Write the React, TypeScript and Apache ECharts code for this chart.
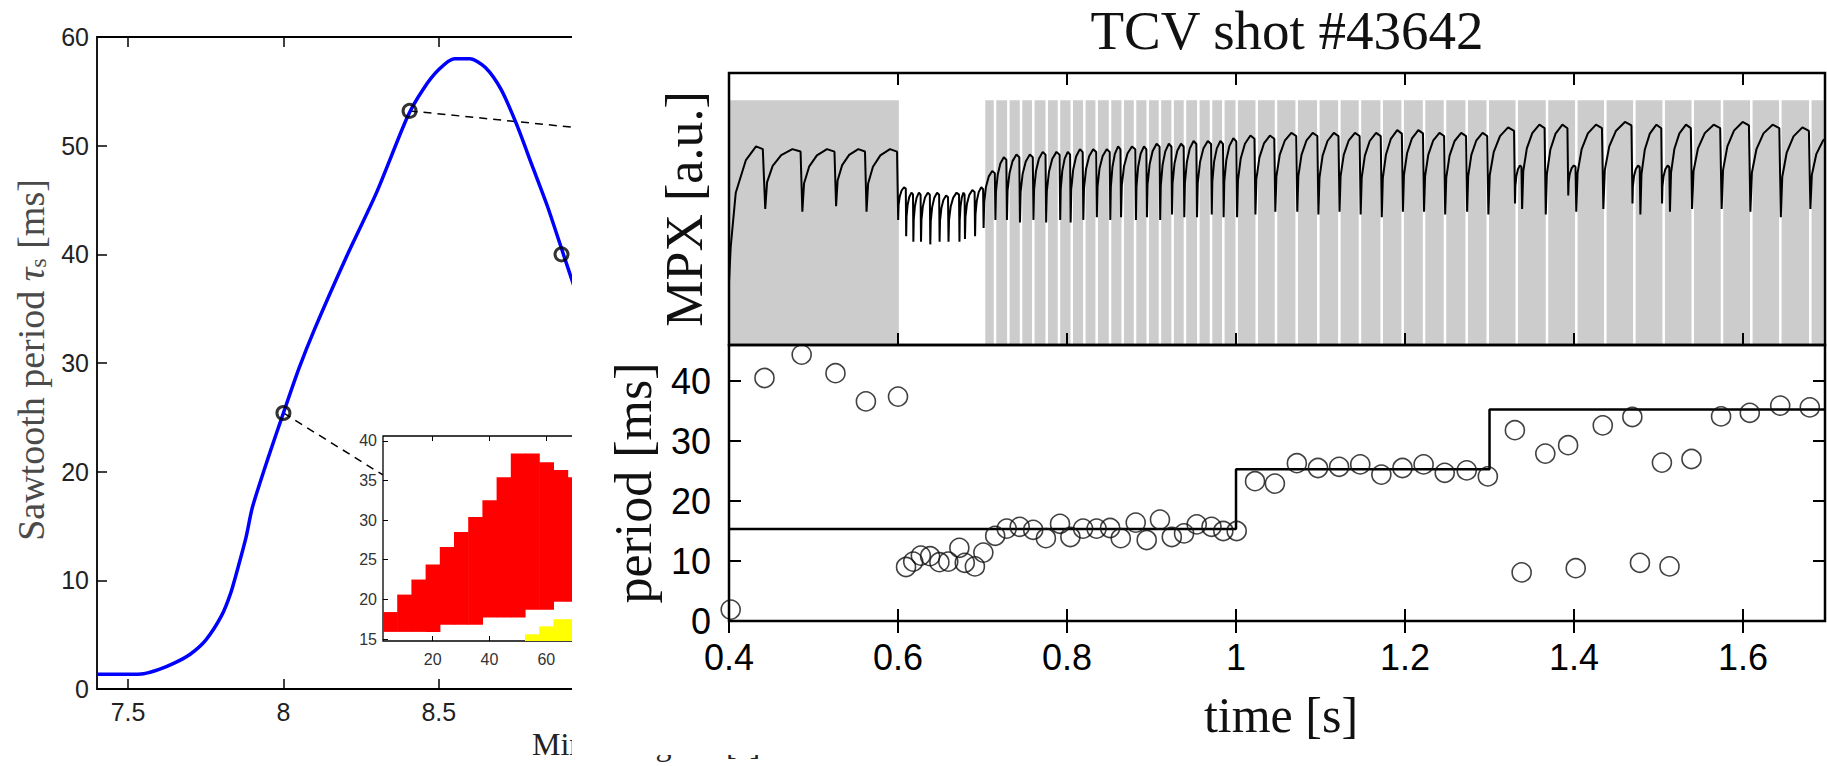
import React, { useEffect, useRef } from "react";
import * as echarts from "echarts";

// ================= Left figure: sawtooth period vs mirror angle =================
const mirrorAngle = [7.40, 7.45, 7.50, 7.55, 7.60, 7.65, 7.70, 7.75, 7.80, 7.83, 7.855, 7.88, 7.90, 7.95, 8.00, 8.05, 8.10, 8.20, 8.30, 8.40, 8.45, 8.50, 8.55, 8.60, 8.65, 8.70, 8.75, 8.80, 8.85, 8.90, 8.95, 9.00];
const sawtoothPeriod = [1.35, 1.35, 1.35, 1.4, 1.8, 2.4, 3.2, 4.5, 6.7, 8.8, 11.3, 14.0, 16.7, 21.2, 25.4, 29.5, 33.1, 39.6, 45.7, 52.7, 55.2, 57.0, 58.0, 58.0, 57.2, 55.2, 52.0, 48.2, 44.4, 40.1, 35.8, 31.5];
const markedAngles = [8.0, 8.406, 8.895];
const markedPeriods = [25.4, 53.2, 40.0];
const leaderLower = [[8.0, 25.4], [8.32, 19.7]];
const leaderUpper = [[8.406, 53.2], [9.0, 51.5]];
const leftXTicks = [7.5, 8, 8.5, 9];
const leftYTicks = [0, 10, 20, 30, 40, 50, 60];

// inset map (columns 5 units wide)
const insetColCenters = [5, 10, 15, 20, 25, 30, 35, 40, 45, 50, 55, 60, 65, 70];
const insetRedLow = [15.9, 15.9, 15.9, 15.9, 16.8, 16.8, 16.8, 17.7, 17.7, 17.7, 18.7, 18.7, 19.7, 19.7];
const insetRedHigh = [18.4, 20.6, 22.5, 24.4, 26.6, 28.5, 30.4, 32.5, 35.4, 38.4, 38.4, 37.3, 36.3, 35.4];
const insetYellowCols = [55, 60, 65, 70];
const insetYellowHigh = [15.6, 16.6, 17.5, 17.5];
const insetXTicks = [20, 40, 60, 80];
const insetYTicks = [15, 20, 25, 30, 35, 40];
const insetCellWidth = 5;

// ================= Right figure: TCV shot #43642 =================
const periodTimes = [0.402, 0.442, 0.486, 0.526, 0.562, 0.600, 0.6095, 0.618, 0.627, 0.638, 0.649, 0.6595, 0.6726, 0.679, 0.691, 0.701, 0.715, 0.7286, 0.744, 0.760, 0.775, 0.7917, 0.804, 0.819, 0.835, 0.851, 0.8636, 0.8813, 0.8943, 0.910, 0.924, 0.9385, 0.9535, 0.971, 0.985, 1.0008, 1.0225, 1.046, 1.072, 1.097, 1.122, 1.147, 1.172, 1.197, 1.222, 1.247, 1.273, 1.298, 1.330, 1.338, 1.366, 1.393, 1.402, 1.434, 1.469, 1.478, 1.504, 1.513, 1.539, 1.574, 1.608, 1.644, 1.679];
const periodValues = [1.9, 40.5, 44.4, 41.3, 36.6, 37.4, 9.0, 9.9, 10.9, 10.8, 9.8, 9.9, 12.2, 9.7, 9.1, 11.4, 14.2, 15.4, 15.7, 15.2, 13.8, 16.2, 14.0, 15.4, 15.4, 15.5, 13.8, 16.4, 13.5, 16.9, 14.0, 14.6, 16.1, 15.7, 15.0, 15.0, 23.3, 22.9, 26.3, 25.5, 25.7, 26.1, 24.4, 25.5, 26.1, 24.7, 25.1, 24.1, 31.8, 8.1, 27.9, 29.3, 8.8, 32.6, 34.0, 9.7, 26.4, 9.1, 27.0, 34.1, 34.7, 35.9, 35.6];
const stepTimes = [0.4, 1.0, 1.3, 1.697];
const stepLevels = [15.35, 25.3, 35.25, 35.25];

// MPX signal: start transient, then one tooth per crash (crashes = periodTimes[1..])
const mpxStart = [[0.4, 0.23], [0.402, 0.36], [0.408, 0.56], [0.42, 0.68], [0.432, 0.73], [0.44, 0.72]];
const mpxTop = [0.72, 0.72, 0.72, 0.72, 0.58, 0.56, 0.56, 0.56, 0.56, 0.55, 0.56, 0.56, 0.57, 0.58, 0.64, 0.69, 0.70, 0.70, 0.71, 0.71, 0.71, 0.72, 0.72, 0.72, 0.73, 0.73, 0.73, 0.74, 0.74, 0.74, 0.75, 0.75, 0.75, 0.76, 0.77, 0.77, 0.78, 0.78, 0.78, 0.78, 0.78, 0.79, 0.79, 0.78, 0.78, 0.78, 0.80, 0.66, 0.81, 0.81, 0.66, 0.81, 0.82, 0.66, 0.81, 0.66, 0.81, 0.81, 0.82, 0.81, 0.80, 0.78];
const mpxLow = [0.50, 0.49, 0.51, 0.49, 0.46, 0.40, 0.38, 0.38, 0.37, 0.38, 0.38, 0.38, 0.39, 0.40, 0.43, 0.46, 0.46, 0.45, 0.46, 0.45, 0.46, 0.45, 0.46, 0.47, 0.46, 0.47, 0.46, 0.47, 0.46, 0.48, 0.47, 0.47, 0.48, 0.47, 0.47, 0.48, 0.49, 0.49, 0.48, 0.49, 0.48, 0.47, 0.49, 0.49, 0.48, 0.49, 0.48, 0.52, 0.50, 0.48, 0.55, 0.49, 0.50, 0.52, 0.48, 0.52, 0.49, 0.50, 0.50, 0.49, 0.47, 0.50];
// tooth shape: [fraction of cycle, fraction between low and top]
const toothShape = [[0.02, 0], [0.07, 0.45], [0.22, 0.72], [0.45, 0.9], [0.75, 1.0], [0.97, 0.96]];
const lastCyclePeriod = 0.035;

// grey trace: solid block, then bars separated by thin white gaps
const greyBlock = [0.4, 0.601];
const greyGapTimes = [0.7018, 0.7148, 0.7306, 0.7456, 0.7601, 0.776, 0.7905, 0.8056, 0.8205, 0.8351, 0.8509, 0.8659, 0.8805, 0.8955, 0.91, 0.925, 0.9396, 0.9554, 0.9704, 0.985, 1.0008, 1.0245, 1.0473, 1.0718, 1.0974, 1.1223, 1.1467, 1.1724, 1.1972, 1.2225, 1.2473, 1.273, 1.2979, 1.3322, 1.368, 1.4027, 1.437, 1.4714, 1.5061, 1.5405, 1.5751, 1.6098, 1.6441, 1.6796];
const greyTop = 0.9;

const timeTicks = [0.4, 0.6, 0.8, 1.0, 1.2, 1.4, 1.6];
const periodTicks = [0, 10, 20, 30, 40];
const X_MIN = 0.4;
const X_MAX = 1.697;

const SANS = '"Liberation Sans", Arial, Helvetica, sans-serif';
const SERIF = '"Liberation Serif", "Times New Roman", serif';

function buildMpx(): number[][] {
  const pts: number[][] = mpxStart.map((p) => [p[0], p[1]]);
  const crashes = periodTimes.slice(1);
  for (let i = 0; i < crashes.length; i++) {
    const t0 = crashes[i];
    const t1 = i + 1 < crashes.length ? crashes[i + 1] : t0 + lastCyclePeriod;
    const P = t1 - t0;
    const hi = mpxTop[i];
    const lo = mpxLow[i];
    for (const [f, l] of toothShape) pts.push([t0 + f * P, lo + l * (hi - lo)]);
  }
  return pts;
}

function buildGrey(): number[][] {
  const segs: number[][] = [[greyBlock[0], greyBlock[1], 0]];
  for (let i = 0; i < greyGapTimes.length; i++) {
    const s = greyGapTimes[i];
    const e = i + 1 < greyGapTimes.length ? greyGapTimes[i + 1] : X_MAX;
    segs.push([s, e, 1]);
  }
  return segs;
}

function buildInset(): number[][] {
  const cells: number[][] = [];
  insetColCenters.forEach((c, i) => {
    cells.push([c - insetCellWidth / 2, c + insetCellWidth / 2, insetRedLow[i], insetRedHigh[i], 0]);
  });
  insetYellowCols.forEach((c, i) => {
    cells.push([c - insetCellWidth / 2, c + insetCellWidth / 2, 14.75, insetYellowHigh[i], 1]);
  });
  return cells;
}

function leftOption(): any {
  const tickStyle = { color: "#000", width: 1.5 };
  return {
    animation: false,
    backgroundColor: "#fff",
    grid: [
      { left: 97, top: 37, width: 621.4, height: 652, show: true, borderColor: "#000", borderWidth: 1.8, backgroundColor: "transparent" },
      { left: 383, top: 436, width: 276.9, height: 205, show: true, borderColor: "#000", borderWidth: 1.3, backgroundColor: "#fff", z: 3 },
    ],
    xAxis: [
      {
        type: "value", gridIndex: 0, position: "bottom", min: 7.4, max: 9.4,
        axisLine: { show: false }, splitLine: { show: false },
        axisTick: { inside: true, length: 10, lineStyle: tickStyle, customValues: leftXTicks },
        axisLabel: { customValues: leftXTicks, fontSize: 25, fontFamily: SANS, color: "#222", margin: 10 },
      },
      {
        type: "value", gridIndex: 0, position: "top", min: 7.4, max: 9.4,
        axisLine: { show: false }, splitLine: { show: false },
        axisTick: { inside: true, length: 10, lineStyle: tickStyle, customValues: leftXTicks },
        axisLabel: { show: false },
      },
      {
        type: "value", gridIndex: 1, position: "bottom", min: 2.5, max: 100,
        axisLine: { show: false }, splitLine: { show: false },
        axisTick: { inside: true, length: 5, lineStyle: { color: "#000", width: 1 }, customValues: insetXTicks },
        axisLabel: { customValues: insetXTicks, fontSize: 16, fontFamily: SANS, color: "#333", margin: 10 },
        z: 4,
      },
      {
        type: "value", gridIndex: 1, position: "top", min: 2.5, max: 100,
        axisLine: { show: false }, splitLine: { show: false },
        axisTick: { inside: true, length: 5, lineStyle: { color: "#000", width: 1 }, customValues: insetXTicks },
        axisLabel: { show: false },
        z: 4,
      },
    ],
    yAxis: [
      {
        type: "value", gridIndex: 0, position: "left", min: 0, max: 60,
        axisLine: { show: false }, splitLine: { show: false },
        axisTick: { inside: true, length: 10, lineStyle: tickStyle, customValues: leftYTicks },
        axisLabel: { customValues: leftYTicks, fontSize: 25, fontFamily: SANS, color: "#222", margin: 8 },
      },
      {
        type: "value", gridIndex: 1, position: "left", min: 14.75, max: 40.6,
        axisLine: { show: false }, splitLine: { show: false },
        axisTick: { inside: true, length: 5, lineStyle: { color: "#000", width: 1 }, customValues: insetYTicks },
        axisLabel: { customValues: insetYTicks, fontSize: 16, fontFamily: SANS, color: "#333", margin: 6 },
        z: 4,
      },
    ],
    series: [
      {
        type: "line", xAxisIndex: 0, yAxisIndex: 0, symbol: "none", smooth: 0.25,
        data: mirrorAngle.map((x, i) => [x, sawtoothPeriod[i]]),
        lineStyle: { color: "#0000ff", width: 3.5 }, z: 3,
      },
      {
        type: "line", xAxisIndex: 0, yAxisIndex: 0, symbol: "none", data: leaderLower,
        lineStyle: { color: "#000", width: 1.5, type: [8, 6] }, z: 2,
      },
      {
        type: "line", xAxisIndex: 0, yAxisIndex: 0, symbol: "none", data: leaderUpper,
        lineStyle: { color: "#000", width: 1.5, type: [8, 6] }, z: 2,
      },
      {
        type: "scatter", xAxisIndex: 0, yAxisIndex: 0, symbol: "circle", symbolSize: 13,
        data: markedAngles.map((x, i) => [x, markedPeriods[i]]),
        itemStyle: { color: "rgba(0,0,0,0)", borderColor: "#000", borderWidth: 3 }, z: 4,
      },
      {
        type: "custom", xAxisIndex: 2, yAxisIndex: 1, clip: true, z: 5,
        data: buildInset(),
        renderItem: (params: any, api: any) => {
          const a = api.coord([api.value(0), api.value(3)]);
          const b = api.coord([api.value(1), api.value(2)]);
          return {
            type: "rect",
            shape: { x: a[0], y: a[1], width: b[0] - a[0] + 0.6, height: b[1] - a[1] },
            style: { fill: api.value(4) === 1 ? "#ffff00" : "#ff0000" },
          };
        },
      },
    ],
    graphic: [
      {
        type: "text", x: 31, y: 360, rotation: Math.PI / 2,
        style: {
          text: "{a|Sawtooth period }{t|τ}{s|s}{a| [ms]}",
          align: "center", verticalAlign: "middle",
          rich: {
            a: { fontSize: 38, fontFamily: SERIF, fill: "#4a4a4a", verticalAlign: "top", lineHeight: 38 },
            t: { fontSize: 38, fontFamily: SERIF, fontStyle: "italic", fill: "#4a4a4a", verticalAlign: "top", lineHeight: 38 },
            s: { fontSize: 24, fontFamily: SERIF, fill: "#4a4a4a", verticalAlign: "bottom", lineHeight: 24, padding: [17, 0, 0, 0] },
          },
        },
      },
      {
        type: "text", x: 532, y: 744,
        style: { text: "Mirror angle θ [°]", font: `32px ${SERIF}`, fill: "#222", align: "left", verticalAlign: "middle" },
      },
    ],
  };
}

function rightOption(): any {
  const tick = { color: "#000", width: 2 };
  const gridStyle = { show: true, borderColor: "#000", borderWidth: 2.5, backgroundColor: "transparent", z: 10 };
  const baseX = { type: "value", min: X_MIN, max: X_MAX, axisLine: { show: false }, splitLine: { show: false }, z: 11 };
  return {
    animation: false,
    backgroundColor: "#fff",
    grid: [
      { left: 157, top: 73, width: 1096, height: 272, ...gridStyle },
      { left: 157, top: 345, width: 1096, height: 276, ...gridStyle },
    ],
    xAxis: [
      { ...baseX, gridIndex: 0, position: "bottom", axisTick: { inside: true, length: 12, lineStyle: tick, customValues: timeTicks }, axisLabel: { show: false } },
      { ...baseX, gridIndex: 0, position: "top", axisTick: { inside: true, length: 12, lineStyle: tick, customValues: timeTicks }, axisLabel: { show: false } },
      {
        ...baseX, gridIndex: 1, position: "bottom",
        axisTick: { inside: true, length: 12, lineStyle: tick, customValues: timeTicks },
        axisLabel: { customValues: timeTicks, fontSize: 36, fontFamily: SANS, color: "#000", margin: 18, formatter: (v: number) => String(Math.round(v * 10) / 10) },
      },
      { ...baseX, gridIndex: 1, position: "top", axisTick: { inside: true, length: 12, lineStyle: tick, customValues: timeTicks }, axisLabel: { show: false } },
    ],
    yAxis: [
      { type: "value", gridIndex: 0, min: 0, max: 1, axisLine: { show: false }, axisTick: { show: false }, axisLabel: { show: false }, splitLine: { show: false } },
      {
        type: "value", gridIndex: 1, position: "left", min: 0, max: 46, z: 11,
        axisLine: { show: false }, splitLine: { show: false },
        axisTick: { inside: true, length: 12, lineStyle: tick, customValues: [10, 20, 30, 40] },
        axisLabel: { customValues: periodTicks, fontSize: 36, fontFamily: SANS, color: "#000", margin: 18 },
      },
      {
        type: "value", gridIndex: 1, position: "right", min: 0, max: 46, z: 11,
        axisLine: { show: false }, splitLine: { show: false },
        axisTick: { inside: true, length: 12, lineStyle: tick, customValues: [10, 20, 30, 40] },
        axisLabel: { show: false },
      },
    ],
    series: [
      {
        type: "custom", xAxisIndex: 0, yAxisIndex: 0, clip: true, z: 1,
        data: buildGrey(),
        renderItem: (params: any, api: any) => {
          const a = api.coord([api.value(0), greyTop]);
          const b = api.coord([api.value(1), 0]);
          const pad = api.value(2) === 1 ? 1.25 : 0;
          return {
            type: "rect",
            shape: { x: a[0] + pad, y: a[1], width: Math.max(0, b[0] - a[0] - 2 * pad), height: b[1] - a[1] },
            style: { fill: "#cccccc" },
          };
        },
      },
      {
        type: "line", xAxisIndex: 0, yAxisIndex: 0, symbol: "none", data: buildMpx(),
        lineStyle: { color: "#000", width: 2 }, z: 3,
      },
      {
        type: "line", xAxisIndex: 2, yAxisIndex: 1, symbol: "none", step: "end",
        data: stepTimes.map((t, i) => [t, stepLevels[i]]),
        lineStyle: { color: "#000", width: 2.5 }, z: 3,
      },
      {
        type: "scatter", xAxisIndex: 2, yAxisIndex: 1, symbol: "circle", symbolSize: 19,
        data: periodTimes.map((t, i) => [t, periodValues[i]]),
        itemStyle: { color: "rgba(0,0,0,0)", borderColor: "#111", borderWidth: 1.6 }, z: 4,
      },
    ],
    graphic: [
      { type: "text", x: 715, y: 30, style: { text: "TCV shot #43642", font: `55px ${SERIF}`, fill: "#111", align: "center", verticalAlign: "middle" } },
      { type: "text", x: 112, y: 209, rotation: Math.PI / 2, style: { text: "MPX [a.u.]", font: `52px ${SERIF}`, fill: "#111", align: "center", verticalAlign: "middle" } },
      { type: "text", x: 61, y: 483, rotation: Math.PI / 2, style: { text: "period [ms]", font: `52px ${SERIF}`, fill: "#111", align: "center", verticalAlign: "middle" } },
      { type: "text", x: 709, y: 715, style: { text: "time [s]", font: `50px ${SERIF}`, fill: "#111", align: "center", verticalAlign: "middle" } },
    ],
  };
}

export default function App() {
  const leftRef = useRef<HTMLDivElement>(null);
  const rightRef = useRef<HTMLDivElement>(null);
  useEffect(() => {
    const lc = echarts.init(leftRef.current as HTMLDivElement, null, { renderer: "svg" });
    lc.setOption(leftOption());
    const rc = echarts.init(rightRef.current as HTMLDivElement, null, { renderer: "svg" });
    rc.setOption(rightOption());
    return () => {
      lc.dispose();
      rc.dispose();
    };
  }, []);
  return (
    <div style={{ position: "absolute", left: 0, top: 0, width: 1827, height: 766, background: "#fff", overflow: "hidden" }}>
      <div ref={leftRef} style={{ position: "absolute", left: 0, top: 0, width: 1827, height: 766 }} />
      <div ref={rightRef} style={{ position: "absolute", left: 572, top: 0, width: 1255, height: 755, background: "#fff" }} />
    </div>
  );
}
